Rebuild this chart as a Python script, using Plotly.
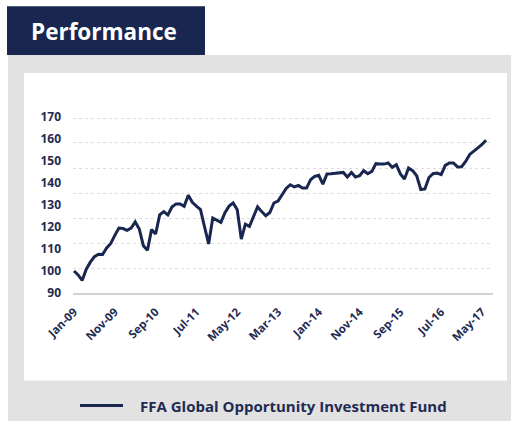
import pandas as pd
import plotly.graph_objects as go

# ---- data ----
VALUES = [
    100.0, 98.2, 95.7, 100.8, 104.0, 106.5, 107.6, 107.5, 110.5, 112.5,
    116.2, 119.5, 119.3, 118.5, 119.5, 122.3, 119.1, 111.5, 109.4, 118.8,
    116.8, 125.5, 127.0, 125.5, 129.1, 130.5, 130.5, 129.4, 134.4, 131.2,
    129.5, 127.9, 120.0, 112.3, 124.1, 123.0, 122.1, 126.5, 129.5, 130.9,
    127.9, 114.5, 121.3, 120.3, 125.0, 129.2, 127.0, 125.1, 126.6, 130.9,
    131.8, 134.5, 137.5, 139.2, 138.2, 138.9, 137.7, 137.7, 141.5, 143.0,
    143.5, 139.5, 144.1, 144.2, 144.4, 144.6, 144.8, 142.7, 144.8, 142.7,
    143.3, 145.6, 144.2, 145.3, 148.8, 148.6, 148.6, 149.1, 147.1, 148.3,
    144.1, 141.8, 146.8, 145.6, 143.3, 137.0, 137.3, 142.5, 144.2, 144.5,
    143.8, 148.0, 149.1, 149.1, 147.3, 147.4, 149.8, 153.0, 154.7, 156.0,
    157.5, 159.4,
]
MONTHS = list(pd.date_range("2009-01-01", periods=len(VALUES), freq="MS").strftime("%b-%y"))
X_TICKS = ["Jan-09", "Nov-09", "Sep-10", "Jul-11", "May-12", "Mar-13",
           "Jan-14", "Nov-14", "Sep-15", "Jul-16", "May-17"]
Y_TICKS = [90, 100, 110, 120, 130, 140, 150, 160, 170]
GRID_LEVELS = [101.0, 112.3, 123.8, 135.2, 146.4, 158.2, 169.1]
SERIES_NAME = "FFA Global Opportunity Investment Fund"
TITLE = "Performance"

NAVY = "#19264f"
TEXT = "#1f2b52"
FONT = "Open Sans"

W, H = 511, 421
# plot area in pixels
L, R, T, B = 73, 493, 117, 293.3


def px(xp):
    return (xp - L) / (R - L)


def py(yp):
    return (B - yp) / (B - T)


fig = go.Figure()
fig.add_trace(go.Scatter(
    x=MONTHS, y=VALUES, mode="lines", name=SERIES_NAME,
    line=dict(color=NAVY, width=3), showlegend=False,
))
# helper trace on the gridline axis
fig.add_trace(go.Scatter(x=[MONTHS[0]], y=[None], yaxis="y2", showlegend=False,
                         hoverinfo="skip", mode="lines"))

shapes = [
    # grey panel
    dict(type="rect", xref="paper", yref="paper", x0=px(8), x1=px(512), y0=py(55), y1=py(422),
         fillcolor="#e2e2e2", line=dict(width=0), layer="below"),
    # white chart box
    dict(type="rect", xref="paper", yref="paper", x0=px(24), x1=px(507), y0=py(73), y1=py(381),
         fillcolor="#ffffff", line=dict(width=0), layer="below"),
    # title box
    dict(type="rect", xref="paper", yref="paper", x0=px(7), x1=px(205), y0=py(6), y1=py(55),
         fillcolor=NAVY, line=dict(width=0), layer="below"),
    # legend line
    dict(type="line", xref="paper", yref="paper", x0=px(80), x1=px(123), y0=py(406), y1=py(406),
         line=dict(color=NAVY, width=3)),
]

annotations = [
    dict(text=f"<b>{TITLE}</b>", xref="paper", yref="paper", x=px(104), y=py(31),
         xanchor="center", yanchor="middle", showarrow=False,
         font=dict(family=FONT, size=22.5, color="#ffffff")),
    dict(text=f"<b>{SERIES_NAME}</b>", xref="paper", yref="paper", x=px(138), y=py(406),
         xanchor="left", yanchor="middle", showarrow=False,
         font=dict(family=FONT, size=15, color=TEXT)),
]

fig.update_layout(
    width=W, height=H,
    margin=dict(l=L, r=W - R, t=T, b=H - B),
    paper_bgcolor="#ffffff",
    plot_bgcolor="rgba(0,0,0,0)",
    shapes=shapes,
    annotations=annotations,
    showlegend=False,
    xaxis=dict(
        type="category",
        range=[-0.25, len(VALUES) + 0.7],
        tickmode="array", tickvals=X_TICKS, ticktext=X_TICKS,
        tickangle=-45, showgrid=False, zeroline=False,
        showline=True, linecolor="#d3d3d3", linewidth=1.5,
        ticks="", ticklabelstandoff=6,
        tickfont=dict(family=FONT, size=11.5, color=TEXT, weight="bold"),
    ),
    yaxis=dict(
        range=[90, 170], tickmode="array", tickvals=Y_TICKS,
        showgrid=False, zeroline=False, showline=False, ticks="",
        ticklabelstandoff=11,
        tickfont=dict(family=FONT, size=12, color=TEXT, weight="bold"),
    ),
    yaxis2=dict(
        overlaying="y", range=[90, 170], tickmode="array", tickvals=GRID_LEVELS,
        showticklabels=False, showgrid=True, gridcolor="#dcdcdc", griddash="dot",
        gridwidth=1, zeroline=False, showline=False, ticks="",
    ),
)

fig.write_html("out.html", config={"displayModeBar": False},
               post_script="document.body.style.margin='0';")
